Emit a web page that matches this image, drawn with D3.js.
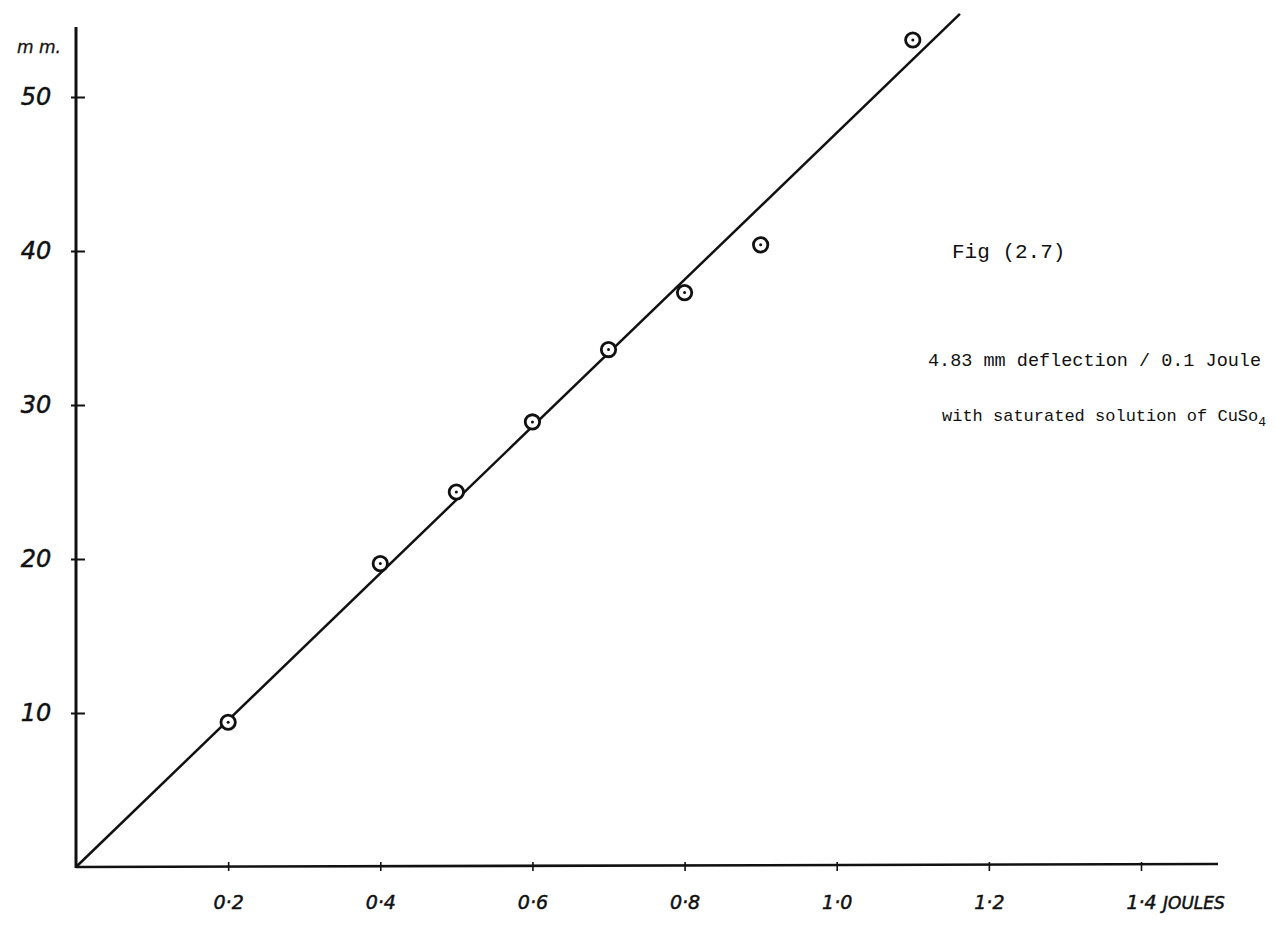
<!DOCTYPE html>
<html>
<head>
<meta charset="utf-8">
<script src="https://cdn.jsdelivr.net/npm/d3@7"></script>
<style>
  body { margin: 0; background: #fff; }
  .hand { font-family: "DejaVu Sans", sans-serif; font-style: italic; fill: #111; stroke: #111; stroke-width: 0.5px; }
  .type { font-family: "Liberation Mono", "DejaVu Sans Mono", monospace; fill: #111; }
</style>
</head>
<body>
<div id="chart"></div>
<script>
// readings
const energy = [0.2, 0.4, 0.5, 0.6, 0.7, 0.8, 0.9, 1.1]        // Joules
const deflection = [9.4, 19.7, 24.35, 28.9, 33.6, 37.3, 40.4, 53.7] // mm
const fitLine = [[0, 0], [1.162, 55.4]]
const xTicks = [0.2, 0.4, 0.6, 0.8, 1.0, 1.2, 1.4]
const xTickLabels = ["0·2", "0·4", "0·6", "0·8", "1·0", "1·2", "1·4"]
const yTicks = [10, 20, 30, 40, 50]
const yTickLabels = ["10", "20", "30", "40", "50"]

const width = 1275, height = 927
const x0 = 76, y0 = 867

const svg = d3.select("#chart").append("svg")
  .attr("width", width)
  .attr("height", height)

const xScale = d3.scaleLinear().domain([0, 1.4]).range([x0, 1141])
const yScale = d3.scaleLinear().domain([0, 50]).range([y0, 97])

// axes lines
svg.append("line")
  .attr("x1", x0).attr("y1", y0).attr("x2", 1218).attr("y2", y0 - 3)
  .attr("stroke", "#111").attr("stroke-width", 2.6)
svg.append("line")
  .attr("x1", x0).attr("y1", y0 + 1).attr("x2", x0).attr("y2", 27)
  .attr("stroke", "#111").attr("stroke-width", 3)

// y ticks + labels
const yAxis = svg.append("g")
  .attr("transform", "translate(" + x0 + ",0)")
  .call(d3.axisLeft(yScale).tickValues(yTicks).tickSize(5)
    .tickFormat((d, i) => yTickLabels[i]))
yAxis.select(".domain").remove()
yAxis.selectAll(".tick line").attr("x1", 9).attr("x2", -5)
  .attr("stroke", "#111").attr("stroke-width", 2)
yAxis.selectAll(".tick text")
  .attr("class", "hand")
  .attr("x", -40).attr("dy", "0.3em")
  .attr("text-anchor", "middle")
  .style("font-size", "24px")

svg.append("text")
  .attr("class", "hand")
  .attr("x", 17).attr("y", 53)
  .style("font-size", "17px")
  .style("stroke-width", "0.3px")
  .text("m m.")

// x ticks + labels
const xAxis = svg.append("g")
  .attr("transform", "translate(0," + y0 + ")")
  .call(d3.axisBottom(xScale).tickValues(xTicks).tickSize(5)
    .tickFormat((d, i) => xTickLabels[i]))
xAxis.select(".domain").remove()
xAxis.selectAll(".tick line").attr("y1", -5).attr("y2", 4)
  .attr("stroke", "#111").attr("stroke-width", 1.6)
xAxis.selectAll(".tick text")
  .attr("class", "hand")
  .attr("y", 42).attr("dy", 0)
  .attr("text-anchor", "middle")
  .style("font-size", "19px")

svg.append("text")
  .attr("class", "hand")
  .attr("x", 1163).attr("y", y0 + 42)
  .style("font-size", "17px")
  .text("JOULES")

// fitted straight line
const line = d3.line()
  .x(d => xScale(d[0]))
  .y(d => yScale(d[1]))

svg.append("path")
  .datum(fitLine)
  .attr("d", line)
  .attr("fill", "none")
  .attr("stroke", "#111")
  .attr("stroke-width", 2.5)

// measured points
const pts = energy.map((e, i) => ({ x: e, y: deflection[i] }))

svg.selectAll(".pt")
  .data(pts)
  .enter().append("circle")
  .attr("class", "pt")
  .attr("cx", d => xScale(d.x))
  .attr("cy", d => yScale(d.y))
  .attr("r", 7.2)
  .attr("fill", "#fff")
  .attr("stroke", "#111")
  .attr("stroke-width", 2.8)

svg.selectAll(".dot")
  .data(pts)
  .enter().append("circle")
  .attr("class", "dot")
  .attr("cx", d => xScale(d.x))
  .attr("cy", d => yScale(d.y))
  .attr("r", 1.5)
  .attr("fill", "#111")

// typed annotations
svg.append("text")
  .attr("class", "type")
  .attr("x", 952).attr("y", 258)
  .style("font-size", "21px")
  .text("Fig (2.7)")

svg.append("text")
  .attr("class", "type")
  .attr("x", 928).attr("y", 366)
  .style("font-size", "18.5px")
  .text("4.83 mm deflection / 0.1 Joule")

const note = svg.append("text")
  .attr("class", "type")
  .attr("x", 942).attr("y", 421)
  .style("font-size", "17px")
note.append("tspan").text("with saturated solution of CuSo")
note.append("tspan").attr("dy", 5).style("font-size", "13px").text("4")
</script>
</body>
</html>
